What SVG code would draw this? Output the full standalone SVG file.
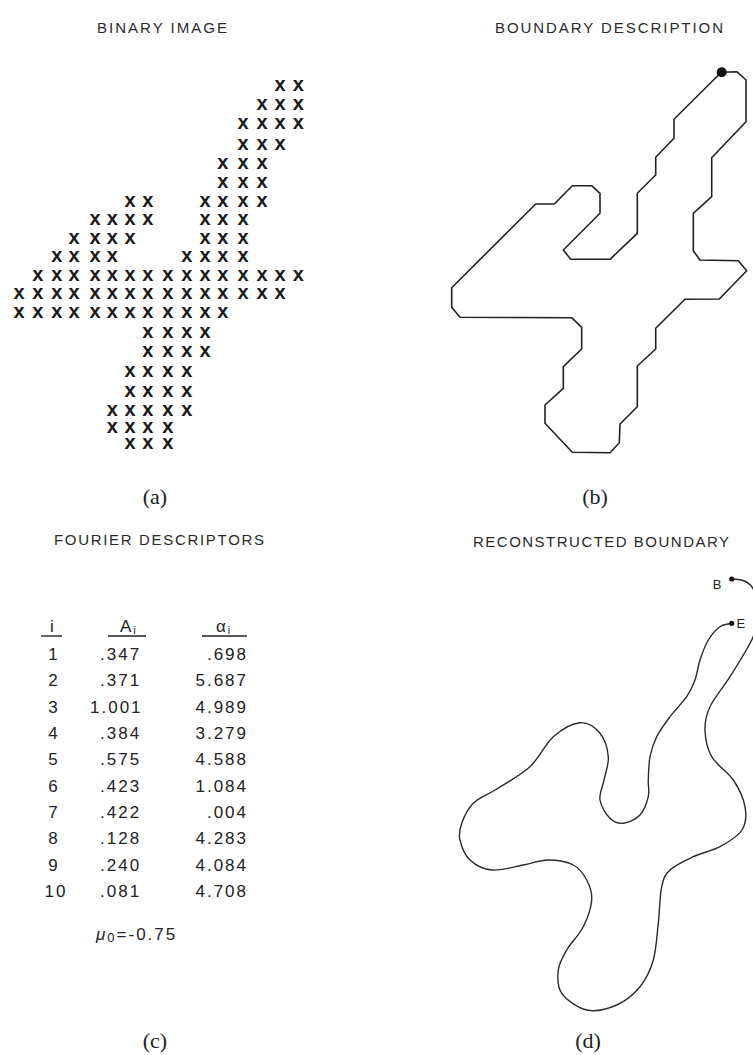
<svg xmlns="http://www.w3.org/2000/svg" width="753" height="1055" viewBox="0 0 753 1055">
<style>
.bg{fill:#fff}
.title{font-family:"Liberation Sans",Arial,sans-serif;font-size:15px;fill:#2a2a2a}
.cap{font-family:"Liberation Serif","Times New Roman",serif;font-size:22px;fill:#222}
.xm{font-family:"Liberation Sans",Arial,sans-serif;font-size:20px;font-weight:bold;fill:#1a1a1a;text-anchor:middle}
.tb{font-family:"Liberation Sans",Arial,sans-serif;font-size:17px;fill:#222;letter-spacing:2px}
.ul{stroke:#222;stroke-width:1.4}
.bd{fill:none;stroke:#222;stroke-width:1.6;stroke-linejoin:round}
.rc{fill:none;stroke:#2a2a2a;stroke-width:1.4;stroke-linecap:round}
.pt{fill:#111}
.lbl{font-family:"Liberation Sans",Arial,sans-serif;font-size:13px;fill:#222}
</style>
<rect class="bg" x="0" y="0" width="753" height="1055"/>

<g id="panel-a">
<text class="title" x="97" y="33" textLength="130">BINARY IMAGE</text>
<text class="xm" y="91" x="280 298.3">xx</text>
<text class="xm" y="110" x="262 280 298.3">xxx</text>
<text class="xm" y="129" x="243 262 280 298.3">xxxx</text>
<text class="xm" y="149.5" x="243 262 280">xxx</text>
<text class="xm" y="168.5" x="222.7 243 262">xxx</text>
<text class="xm" y="187.5" x="222.7 243 262">xxx</text>
<text class="xm" y="206.5" x="130 147.7 205 222.7 243 262">xxxxxx</text>
<text class="xm" y="225" x="95 112.3 130 147.7 205 222.7 243">xxxxxxx</text>
<text class="xm" y="243.5" x="74 95 112.3 130 205 222.7 243">xxxxxxx</text>
<text class="xm" y="262" x="56.7 74 95 112.3 186.7 205 222.7 243">xxxxxxxx</text>
<text class="xm" y="280.5" x="37.7 56.7 74 95 112.3 130 147.7 167.7 186.7 205 222.7 243 262 280 298.3">xxxxxxxxxxxxxxx</text>
<text class="xm" y="299" x="19 37.7 56.7 74 95 112.3 130 147.7 167.7 186.7 205 222.7 243 262 280">xxxxxxxxxxxxxxx</text>
<text class="xm" y="318" x="19 37.7 56.7 74 95 112.3 130 147.7 167.7 186.7 205 222.7">xxxxxxxxxxxx</text>
<text class="xm" y="337.5" x="147.7 167.7 186.7 205">xxxx</text>
<text class="xm" y="357" x="147.7 167.7 186.7 205">xxxx</text>
<text class="xm" y="376.5" x="130 147.7 167.7 186.7">xxxx</text>
<text class="xm" y="396.5" x="130 147.7 167.7 186.7">xxxx</text>
<text class="xm" y="415.5" x="112.3 130 147.7 167.7 186.7">xxxxx</text>
<text class="xm" y="433" x="112.3 130 147.7 167.7">xxxx</text>
<text class="xm" y="449" x="130 147.7 167.7">xxx</text>
<text class="cap" x="155" y="504" text-anchor="middle">(a)</text>
</g>

<g id="panel-b">
<text class="title" x="495" y="33" textLength="228">BOUNDARY DESCRIPTION</text>
<path class="bd" d="M721.7,72.3 L736.7,71.7 L746,80 L746,121.7 L711.7,157.7 L711.7,196.7 L693.3,213.3 L693.3,250.7 L700,260 L738.3,260.7 L746.7,270.7 L719.3,299 L685,299.3 L655.7,328.3 L655.7,349 L637.3,366 L637.3,406.7 L620,424 L619.3,442.7 L610,452.7 L572.3,452.3 L545,423.3 L545,405 L563.3,388.3 L563.3,366.7 L581.7,349 L581.7,327.3 L571.7,317.7 L460,317.3 L451.7,307.3 L451.7,287.7 L535.7,204 L554.3,204 L572.3,185.7 L591.7,185.7 L600,193.3 L600,213.3 L563.3,250 L570.7,259.3 L610,259.3 L637.3,233.3 L637.3,193.3 L655.7,175 L655.7,157.3 L674,138.3 L674,119.3 L716.7,76.7 Z"/>
<circle class="pt" cx="721.7" cy="72.3" r="5"/>
<text class="cap" x="595" y="504" text-anchor="middle">(b)</text>
</g>

<g id="panel-c">
<text class="title" x="54" y="545" textLength="210">FOURIER DESCRIPTORS</text>
<text class="tb" x="53" y="632" text-anchor="middle">i</text>
<line class="ul" x1="41" y1="636" x2="62" y2="636"/>
<text class="tb" x="120" y="632">A<tspan font-size="11" dy="2">i</tspan></text>
<line class="ul" x1="108" y1="636" x2="146" y2="636"/>
<text class="tb" x="216" y="632">α<tspan font-size="11" dy="2">i</tspan></text>
<line class="ul" x1="202" y1="636" x2="247" y2="636"/>
<g id="rows">
<text class="tb" x="54" y="659.5" text-anchor="middle">1</text><text class="tb" x="100" y="659.5">.347</text><text class="tb" x="248" y="659.5" text-anchor="end">.698</text>
<text class="tb" x="54" y="686" text-anchor="middle">2</text><text class="tb" x="100" y="686">.371</text><text class="tb" x="248" y="686" text-anchor="end">5.687</text>
<text class="tb" x="54" y="712.5" text-anchor="middle">3</text><text class="tb" x="90" y="712.5">1.001</text><text class="tb" x="248" y="712.5" text-anchor="end">4.989</text>
<text class="tb" x="54" y="738.5" text-anchor="middle">4</text><text class="tb" x="100" y="738.5">.384</text><text class="tb" x="248" y="738.5" text-anchor="end">3.279</text>
<text class="tb" x="54" y="765" text-anchor="middle">5</text><text class="tb" x="100" y="765">.575</text><text class="tb" x="248" y="765" text-anchor="end">4.588</text>
<text class="tb" x="54" y="791.5" text-anchor="middle">6</text><text class="tb" x="100" y="791.5">.423</text><text class="tb" x="248" y="791.5" text-anchor="end">1.084</text>
<text class="tb" x="54" y="818" text-anchor="middle">7</text><text class="tb" x="100" y="818">.422</text><text class="tb" x="248" y="818" text-anchor="end">.004</text>
<text class="tb" x="54" y="844" text-anchor="middle">8</text><text class="tb" x="100" y="844">.128</text><text class="tb" x="248" y="844" text-anchor="end">4.283</text>
<text class="tb" x="54" y="870.5" text-anchor="middle">9</text><text class="tb" x="100" y="870.5">.240</text><text class="tb" x="248" y="870.5" text-anchor="end">4.084</text>
<text class="tb" x="56" y="897" text-anchor="middle">10</text><text class="tb" x="100" y="897">.081</text><text class="tb" x="248" y="897" text-anchor="end">4.708</text>
</g>
<text class="tb" x="96" y="940"><tspan font-style="italic">μ</tspan><tspan font-size="13" dy="2">0</tspan><tspan dy="-2">=-0.75</tspan></text>
<text class="cap" x="155" y="1048" text-anchor="middle">(c)</text>
</g>

<g id="panel-d">
<text class="title" x="473" y="547" textLength="256">RECONSTRUCTED BOUNDARY</text>
<path class="rc" d="M731.7,579 C735.5,579.5 739.6,579.2 743,580.5 S749.3,582.9 752,587 S758.3,598.7 759,605 S757.2,619.2 756,625 S756,631.4 751.7,640 S737,665.6 730,676.7 S714.2,697.8 710,706.7 S704.7,721.7 705,730 S707,748.4 711.7,756.7 S727.7,771.7 733.3,780 S743.5,798.4 745,806.7 S746.2,823.3 742,830 S728.1,842.3 720,846.7 S701.6,852.8 693.3,856.7 S675.3,865 670,870 S663.7,877.8 661.7,886.7 S659.7,911.1 658.3,923.3 S656.3,949.4 653.3,960 S646.1,979.2 640,986.7 S625.6,1001.1 616.7,1005 S595.9,1012 586.7,1010 S566.4,1000 561.7,993.3 S557.5,977.2 558.3,970 S562.5,957.2 566.7,950 S579.1,935 583.3,926.7 S591.1,907.8 591.7,900 S589.8,885.8 586.7,880 S579.7,868.3 573.3,865 S556.6,860 548.3,860 S532.7,863.3 523.3,865 S500.6,870.8 491.7,870 S475.3,865 470,860 S461.4,846.1 460,840 S459.5,829.4 461.7,823.3 S467.7,808.9 473.3,803.3 S485.5,796.1 495,790 S520.3,775.6 530,766.7 S545,744 553.3,736.7 S572.2,723.3 580,722.7 S595.3,727.6 600,733.3 S607.6,748.9 608.3,756.7 S605.4,772.8 604,780 S599,793.6 600,800 S606.1,814.4 610,818.3 S618.3,823.9 623.3,823.3 S635.8,819.4 640,815 S646.9,802.5 648.3,796.7 S648,786.7 648.3,780 S648.6,763.9 650,756.7 S653.4,743.4 656.7,736.7 S665,723.4 670,716.7 S682.5,702.8 686.7,696.7 S692.8,686.1 695,680 S697.8,666.7 700,660 S705,645.6 708.3,640 S716.1,629.5 720,626.7 S727.8,624.4 731.7,623.3"/>
<circle class="pt" cx="731.7" cy="579" r="2.6"/>
<circle class="pt" cx="731.7" cy="623.3" r="2.6"/>
<text class="lbl" x="717" y="588.5" text-anchor="middle">B</text>
<text class="lbl" x="736.5" y="628">E</text>
<text class="cap" x="588" y="1048" text-anchor="middle">(d)</text>
</g>
</svg>
